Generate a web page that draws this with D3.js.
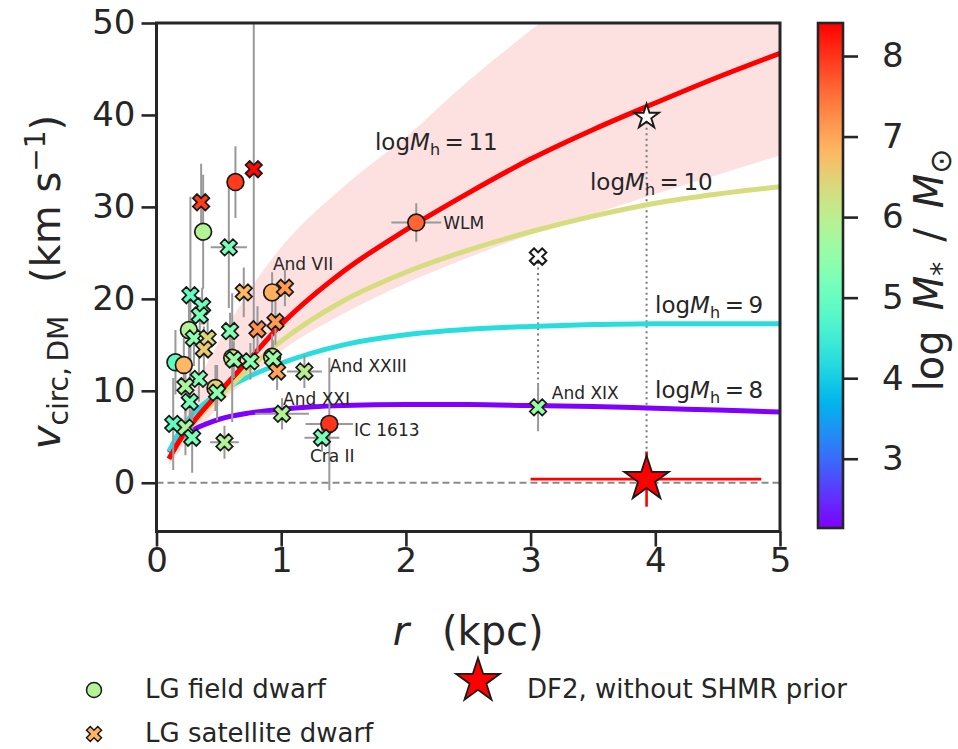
<!DOCTYPE html>
<html><head><meta charset="utf-8">
<script src="https://cdn.jsdelivr.net/npm/d3@7"></script>
<style>
body{margin:0;background:#fff}
text{font-family:"DejaVu Sans",sans-serif;fill:#262626}
</style>
</head><body>
<svg id="chart" width="958" height="749"></svg>
<script>
// ---------------- data ----------------
const curveR   = [0.1,0.2,0.3,0.4,0.5,0.75,1.0,1.5,2.0,2.5,3.0,3.5,4.0,4.5,5.0];
const vMh11    = [2.6,4.9,6.7,8.3,9.8,13.5,17.2,23.0,27.5,31.5,35.2,38.4,41.3,44.1,46.7];
const vMh10    = [2.6,4.8,6.5,8.0,9.3,12.5,15.4,19.8,22.9,25.3,27.3,29.0,30.4,31.4,32.2];
const vMh9     = [3.4,5.9,7.6,8.8,9.8,11.6,13.0,15.0,16.1,16.7,17.0,17.2,17.3,17.3,17.3];
const vMh8     = [3.3,4.9,5.8,6.4,6.9,7.6,8.0,8.4,8.5,8.5,8.4,8.3,8.1,7.9,7.7];
const band11Lo = [1.9,3.7,5.3,6.8,8.4,11.5,14.3,18.4,21.7,24.5,27.0,29.2,31.4,33.5,35.6];
const band11Hi = [3.6,6.9,10.0,12.8,15.3,21.0,25.6,32.2,37.6,43.7,49.2,54.5,59.5,64.0,68.0];
const curveLogMh = [11,10,9,8];
const curveColorPos = [1.0,0.667,0.333,0.0];

// LG field dwarfs: r (kpc), v (km/s), r error, v error, log M*
const fieldR    = [0.633,0.374,0.927,0.26,0.152,0.219,0.607,0.927,0.473,2.083,1.386];
const fieldV    = [32.7,27.3,20.7,16.6,13.1,12.8,13.6,13.7,10.3,28.3,6.4];
const fieldRErr = [0,0,0,0,0,0,0,0,0,0.2,0.19];
const fieldVErr = [3.9,6.2,2.2,4.0,3.5,3.0,7.0,2.5,2.5,2.1,7.2];
const fieldLogM = [7.95,5.9,6.9,5.9,4.9,6.8,6.3,6.2,6.5,7.6,8.0];

// LG satellite dwarfs
const satR    = [0.78,0.358,0.58,0.272,0.366,0.347,0.70,1.03,0.954,0.81,0.59,0.30,0.41,0.38,0.62,0.753,0.935,0.967,1.186,0.34,0.232,0.486,0.267,1.007,1.327,0.134,0.232,0.286,0.545,3.06];
const satV    = [34.1,30.5,25.6,20.4,19.2,18.2,20.7,21.2,17.5,16.7,16.5,15.7,15.7,14.5,13.4,13.2,13.5,12.1,12.1,11.3,10.5,9.8,8.8,7.5,4.9,6.4,6.0,4.9,4.4,8.2];
const satRErr = [0,0,0.145,0,0,0,0,0,0,0,0,0,0,0,0,0,0,0,0.14,0,0,0,0,0.215,0.14,0,0,0,0.115,0];
const satVErr = [21,4.2,6.6,10.7,2.0,2.0,2.7,2.0,2.5,2.5,2.0,3.0,2.0,2.5,2.0,2.0,2.0,2.0,1.8,2.5,3.0,3.0,3.0,1.7,1.5,5.0,3.0,3.8,1.8,2.6];
const satLogM = [8.35,7.95,5.2,4.9,5.1,5.2,6.8,7.1,7.1,7.2,5.3,5.4,6.4,6.6,5.6,5.4,5.6,7.0,6.0,5.3,5.8,5.4,5.2,5.9,5.2,4.9,5.8,5.2,5.9,5.6];

// annotated names (text anchor in data coordinates)
const nameText = ["And VII","WLM","And XXIII","And XXI","IC 1613","Cra II","And XIX"];
const nameR    = [0.934,2.30,1.39,1.015,1.584,1.23,3.17];
const nameV    = [23.15,27.6,12.07,8.48,5.1,2.28,9.13];

// curve labels
const curveLabelR = [1.752,3.476,3.998,3.998];
const curveLabelV = [36.2,31.85,18.48,9.24];

// DF2
const df2R = 3.93, df2V = 0.4, df2RLo = 3.0, df2RHi = 4.85, df2VLo = -2.6, df2VHi = 3.4;
// open markers (other estimates) joined by dotted lines
const openStarR = 3.93, openStarV = 39.8;
const openXR = 3.06, openXV = 24.6, openXLinkV = 8.2;

const xTicks = [0,1,2,3,4,5];
const yTicks = [0,10,20,30,40,50];
const cTicks = [3,4,5,6,7,8];
const xDomain = [0,5], yDomain = [-5.3,50], cDomain = [2.14,8.41];

// ---------------- setup ----------------
const svg = d3.select("#chart");
const L = 156.5, R = 780, T = 23, B = 531.5;
const x = d3.scaleLinear().domain(xDomain).range([L,R]);
const y = d3.scaleLinear().domain(yDomain).range([B,T]);

// matplotlib "rainbow" colormap
function rainbow(t){
  t = Math.max(0,Math.min(1,t));
  const r = Math.min(1,Math.abs(2*t-0.5));
  const g = Math.sin(Math.PI*t);
  const b = Math.cos(Math.PI*t/2);
  return d3.rgb(r*255,g*255,b*255).formatHex();
}
const color = d3.scaleSequential(rainbow).domain(cDomain);

const defs = svg.append("defs");
defs.append("clipPath").attr("id","plotclip").append("rect")
  .attr("x",L).attr("y",T).attr("width",R-L).attr("height",B-T);

const plot = svg.append("g").attr("clip-path","url(#plotclip)");

// band
const bandData = curveR.map((r,i)=>({r,lo:band11Lo[i],hi:band11Hi[i]}));
plot.append("path").datum(bandData)
  .attr("d", d3.area().x(d=>x(d.r)).y0(d=>y(d.lo)).y1(d=>y(d.hi)).curve(d3.curveMonotoneX))
  .attr("fill","#fde1e1").attr("stroke","none");

// zero line
plot.append("line").attr("x1",x(0)).attr("x2",x(5)).attr("y1",y(0)).attr("y2",y(0))
  .attr("stroke","#8a8a8a").attr("stroke-width",1.8).attr("stroke-dasharray","7,4");

// dotted links
plot.append("line").attr("x1",x(openStarR)).attr("x2",x(openStarR)).attr("y1",y(openStarV)).attr("y2",y(df2V))
  .attr("stroke","#7a7a7a").attr("stroke-width",2).attr("stroke-dasharray","2,3.5");
plot.append("line").attr("x1",x(openXR)).attr("x2",x(openXR)).attr("y1",y(openXV)).attr("y2",y(openXLinkV))
  .attr("stroke","#7a7a7a").attr("stroke-width",2).attr("stroke-dasharray","2,3.5");

// curves (draw low mass first so red is on top)
const curveVals = [vMh11,vMh10,vMh9,vMh8];
const lineGen = d3.line().x(d=>x(d[0])).y(d=>y(d[1])).curve(d3.curveMonotoneX);
[3,2,1,0].forEach(k=>{
  plot.append("path").datum(curveR.map((r,i)=>[r,curveVals[k][i]]))
    .attr("d",lineGen).attr("fill","none")
    .attr("stroke",rainbow(curveColorPos[k])).attr("stroke-width",5).attr("stroke-linecap","butt");
});

// error bars
const eb = plot.append("g").attr("stroke","#999999").attr("stroke-width",2);
function errbars(rs,vs,re,ve){
  rs.forEach((r,i)=>{
    if(ve[i]>0) eb.append("line").attr("x1",x(r)).attr("x2",x(r)).attr("y1",y(vs[i]-ve[i])).attr("y2",y(vs[i]+ve[i]));
    if(re[i]>0) eb.append("line").attr("x1",x(r-re[i])).attr("x2",x(r+re[i])).attr("y1",y(vs[i])).attr("y2",y(vs[i]));
  });
}
errbars(fieldR,fieldV,fieldRErr,fieldVErr);
errbars(satR,satV,satRErr,satVErr);

// marker shapes
const xVerts = [[-1,-2],[0,-1],[1,-2],[2,-1],[1,0],[2,1],[1,2],[0,1],[-1,2],[-2,1],[-1,0],[-2,-1]];
function xPath(size){ const u=size/4; return "M"+xVerts.map(p=>[p[0]*u,p[1]*u].join(",")).join("L")+"Z"; }
function starPath(Ro){
  const ri = Ro*0.381966, pts=[];
  for(let k=0;k<10;k++){
    const a = -Math.PI/2 + k*Math.PI/5, rr = k%2===0?Ro:ri;
    pts.push([rr*Math.cos(a), rr*Math.sin(a)]);
  }
  return "M"+pts.map(p=>p.join(",")).join("L")+"Z";
}

const pts = plot.append("g");
const all = [];
fieldR.forEach((r,i)=>all.push({t:"o",r,v:fieldV[i],m:fieldLogM[i]}));
satR.forEach((r,i)=>all.push({t:"x",r,v:satV[i],m:satLogM[i]}));
all.forEach(d=>{
  if(d.t==="o"){
    pts.append("circle").attr("cx",x(d.r)).attr("cy",y(d.v)).attr("r",8.4)
      .attr("fill",color(d.m)).attr("stroke","#1a1a1a").attr("stroke-width",1.7);
  } else {
    pts.append("path").attr("d",xPath(16.5)).attr("transform",`translate(${x(d.r)},${y(d.v)})`)
      .attr("fill",color(d.m)).attr("stroke","#1a1a1a").attr("stroke-width",1.7).attr("stroke-linejoin","miter");
  }
});

// open X
pts.append("path").attr("d",xPath(16.5)).attr("transform",`translate(${x(openXR)},${y(openXV)})`)
  .attr("fill","#fff").attr("stroke","#1a1a1a").attr("stroke-width",2);
// open star
pts.append("path").attr("d",starPath(13)).attr("transform",`translate(${x(openStarR)},${y(openStarV)})`)
  .attr("fill","#fff").attr("stroke","#1a1a1a").attr("stroke-width",1.9).attr("stroke-linejoin","miter");

// DF2 error bars + star
plot.append("line").attr("x1",x(df2RLo)).attr("x2",x(df2RHi)).attr("y1",y(df2V)).attr("y2",y(df2V))
  .attr("stroke","#ff0000").attr("stroke-width",2.6);
plot.append("line").attr("x1",x(df2R)).attr("x2",x(df2R)).attr("y1",y(df2VLo)).attr("y2",y(df2VHi))
  .attr("stroke","#ff0000").attr("stroke-width",2.6);
plot.append("path").attr("d",starPath(23.5)).attr("transform",`translate(${x(df2R)},${y(df2V)})`)
  .attr("fill","#ff0000").attr("stroke","#1a1a1a").attr("stroke-width",1.8).attr("stroke-linejoin","miter");

// name labels
nameText.forEach((t,i)=>{
  svg.append("text").attr("x",x(nameR[i])).attr("y",y(nameV[i])).attr("font-size",17).text(t);
});

// curve labels: log M_h = N
curveLogMh.forEach((m,i)=>{
  const t = svg.append("text").attr("x",x(curveLabelR[i])).attr("y",y(curveLabelV[i])).attr("font-size",23);
  t.append("tspan").text("log");
  t.append("tspan").attr("font-style","italic").text("M");
  t.append("tspan").attr("font-size",16).attr("dy",5).text("h");
  t.append("tspan").attr("dy",-5).text("\u2009=\u2009"+m);
});

// frame
svg.append("rect").attr("x",L).attr("y",T).attr("width",R-L).attr("height",B-T)
  .attr("fill","none").attr("stroke","#262626").attr("stroke-width",3);

// axes
function styleAxis(g){
  g.select(".domain").remove();
  g.selectAll(".tick line").attr("stroke","#262626").attr("stroke-width",2.6);
  g.selectAll(".tick text").attr("font-size",34).attr("fill","#262626").attr("font-family","DejaVu Sans");
}
svg.append("g").attr("transform",`translate(0,${B})`)
  .call(d3.axisBottom(x).tickValues(xTicks).tickSize(15).tickPadding(1).tickFormat(d3.format("d")))
  .call(styleAxis);
svg.append("g").attr("transform",`translate(${L},0)`)
  .call(d3.axisLeft(y).tickValues(yTicks).tickSize(15).tickPadding(6).tickFormat(d3.format("d")))
  .call(styleAxis);

// axis labels
const xl = svg.append("text").attr("x",(L+R)/2).attr("y",645).attr("text-anchor","middle").attr("font-size",40);
xl.append("tspan").attr("font-style","italic").text("r");
xl.append("tspan").text("\u2002 (kpc)");

const yl = svg.append("text").attr("transform","translate(60,282) rotate(-90)").attr("text-anchor","middle").attr("font-size",40);
yl.append("tspan").attr("font-style","italic").text("v");
yl.append("tspan").attr("font-size",28).attr("dy",8).text("circ,\u2009DM");
yl.append("tspan").attr("dy",-8).text("\u2002 (km s");
yl.append("tspan").attr("font-size",28).attr("dy",-15).text("\u22121");
yl.append("tspan").attr("dy",15).text(")");

// colorbar
const cbL = 818, cbR = 843, cbT = 23, cbB = 528;
const cy = d3.scaleLinear().domain(cDomain).range([cbB,cbT]);
const grad = defs.append("linearGradient").attr("id","cbgrad").attr("x1",0).attr("x2",0).attr("y1",1).attr("y2",0);
d3.range(0,1.0001,0.02).forEach(t=>grad.append("stop").attr("offset",t).attr("stop-color",rainbow(t)));
svg.append("rect").attr("x",cbL).attr("y",cbT).attr("width",cbR-cbL).attr("height",cbB-cbT)
  .attr("fill","url(#cbgrad)").attr("stroke","#262626").attr("stroke-width",2.6);
svg.append("g").attr("transform",`translate(${cbR},0)`)
  .call(d3.axisRight(cy).tickValues(cTicks).tickSize(15).tickPadding(24).tickFormat(d3.format("d")))
  .call(styleAxis);
const cl = svg.append("text").attr("transform","translate(943,270) rotate(-90)").attr("text-anchor","middle").attr("font-size",40);
cl.append("tspan").text("log\u2002");
cl.append("tspan").attr("font-style","italic").text("M");
cl.append("tspan").attr("font-size",28).attr("dy",8).text("*");
cl.append("tspan").attr("dy",-8).text("\u2002/\u2002");
cl.append("tspan").attr("font-style","italic").text("M");
cl.append("tspan").attr("font-size",30).attr("dy",8).text("\u2299");

// legend
const leg = svg.append("g");
leg.append("circle").attr("cx",94).attr("cy",690).attr("r",7.5).attr("fill",color(5.9)).attr("stroke","#1a1a1a").attr("stroke-width",1.5);
leg.append("text").attr("x",145).attr("y",698).attr("font-size",26).text("LG field dwarf");
leg.append("path").attr("d",xPath(15)).attr("transform","translate(94,734)").attr("fill",color(6.85)).attr("stroke","#1a1a1a").attr("stroke-width",1.5);
leg.append("text").attr("x",145).attr("y",742).attr("font-size",26).text("LG satellite dwarf");
leg.append("path").attr("d",starPath(23)).attr("transform","translate(478,681)").attr("fill","#ff0000").attr("stroke","#1a1a1a").attr("stroke-width",1.8);
leg.append("text").attr("x",527).attr("y",698).attr("font-size",26).text("DF2, without SHMR prior");
</script>
</body></html>
